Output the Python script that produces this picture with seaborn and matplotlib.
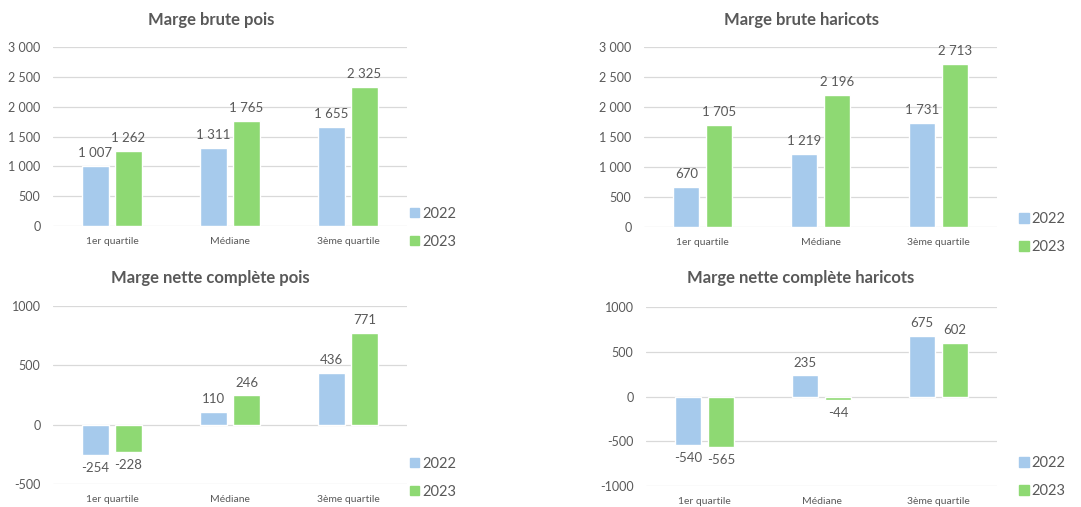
import pandas as pd
import seaborn as sns
import matplotlib.pyplot as plt
from matplotlib.patches import Patch

# data
categories = ["1er quartile", "Médiane", "3ème quartile"]
years = ["2022", "2023"]

brute_pois_2022 = [1007, 1311, 1655]
brute_pois_2023 = [1262, 1765, 2325]
brute_haricots_2022 = [670, 1219, 1731]
brute_haricots_2023 = [1705, 2196, 2713]
nette_pois_2022 = [-254, 110, 436]
nette_pois_2023 = [-228, 246, 771]
nette_haricots_2022 = [-540, 235, 675]
nette_haricots_2023 = [-565, -44, 602]

colors = {"2022": "#A6CAEC", "2023": "#8ED973"}
grey = "#595959"

sns.set_theme(style="white")
plt.rcParams["font.family"] = ["Lato", "DejaVu Sans"]


def make_df(v22, v23):
    return pd.DataFrame({
        "cat": categories * 2,
        "year": ["2022"] * 3 + ["2023"] * 3,
        "val": list(v22) + list(v23),
    })


def fmt(v, sep):
    s = f"{v:,.0f}"
    return s.replace(",", " " if sep else "")


fig = plt.figure(figsize=(10.81, 5.07), dpi=100)

panels = [
    # title, v22, v23, axes rect, ylim, yticks, thousands sep, title x, legend anchor
    ("Marge brute pois", brute_pois_2022, brute_pois_2023,
     [0.049, 0.554, 0.3275, 0.353], (0, 3000), range(0, 3001, 500), True, 0.195, (0.379, 0.551)),
    ("Marge brute haricots", brute_haricots_2022, brute_haricots_2023,
     [0.5957, 0.552, 0.3266, 0.355], (0, 3000), range(0, 3001, 500), True, 0.741, (0.943, 0.540)),
    ("Marge nette complète pois", nette_pois_2022, nette_pois_2023,
     [0.049, 0.0454, 0.3275, 0.351], (-500, 1000), range(-500, 1001, 500), False, 0.195, (0.379, 0.058)),
    ("Marge nette complète haricots", nette_haricots_2022, nette_haricots_2023,
     [0.5976, 0.0414, 0.3247, 0.353], (-1000, 1000), range(-1000, 1001, 500), False, 0.741, (0.943, 0.059)),
]

title_y = [0.96, 0.96, 0.452, 0.452]

for i, (title, v22, v23, rect, ylim, yticks, sep, tx, lg) in enumerate(panels):
    ax = fig.add_axes(rect)
    df = make_df(v22, v23)
    sns.barplot(data=df, x="cat", y="val", hue="year", order=categories,
                hue_order=years, palette=colors, width=0.56, gap=0.21,
                saturation=1, ax=ax, legend=False, zorder=3)
    ax.set_ylim(*ylim)
    ax.set_xlim(-0.5, 2.5)
    ax.set_yticks(list(yticks))
    ax.set_yticklabels([fmt(t, sep) for t in yticks])
    ax.grid(axis="y", color="#D9D9D9", linewidth=0.9, zorder=0)
    ax.set_axisbelow(True)
    for s in ax.spines.values():
        s.set_visible(False)
    ax.set_xlabel("")
    ax.set_ylabel("")
    ax.tick_params(axis="y", length=0, pad=9, labelsize=9, labelcolor=grey)
    ax.tick_params(axis="x", length=0, pad=8, labelsize=7.5, labelcolor=grey)
    for cont in ax.containers:
        ax.bar_label(cont, labels=[fmt(b.get_height(), sep) for b in cont],
                     padding=5, fontsize=9.5, color=grey)
    fig.text(tx, title_y[i], title, ha="center", va="center",
             fontsize=12, fontweight="bold", color=grey)
    handles = [Patch(color=colors[y]) for y in years]
    leg = ax.legend(handles, years, loc="center left", bbox_to_anchor=lg,
                    bbox_transform=fig.transFigure, frameon=False,
                    handlelength=0.65, handleheight=0.65, handletextpad=0.2,
                    labelspacing=0.95, borderpad=0, borderaxespad=0, fontsize=10.5)
    for t in leg.get_texts():
        t.set_color(grey)

fig.savefig("out.png", dpi=100)
